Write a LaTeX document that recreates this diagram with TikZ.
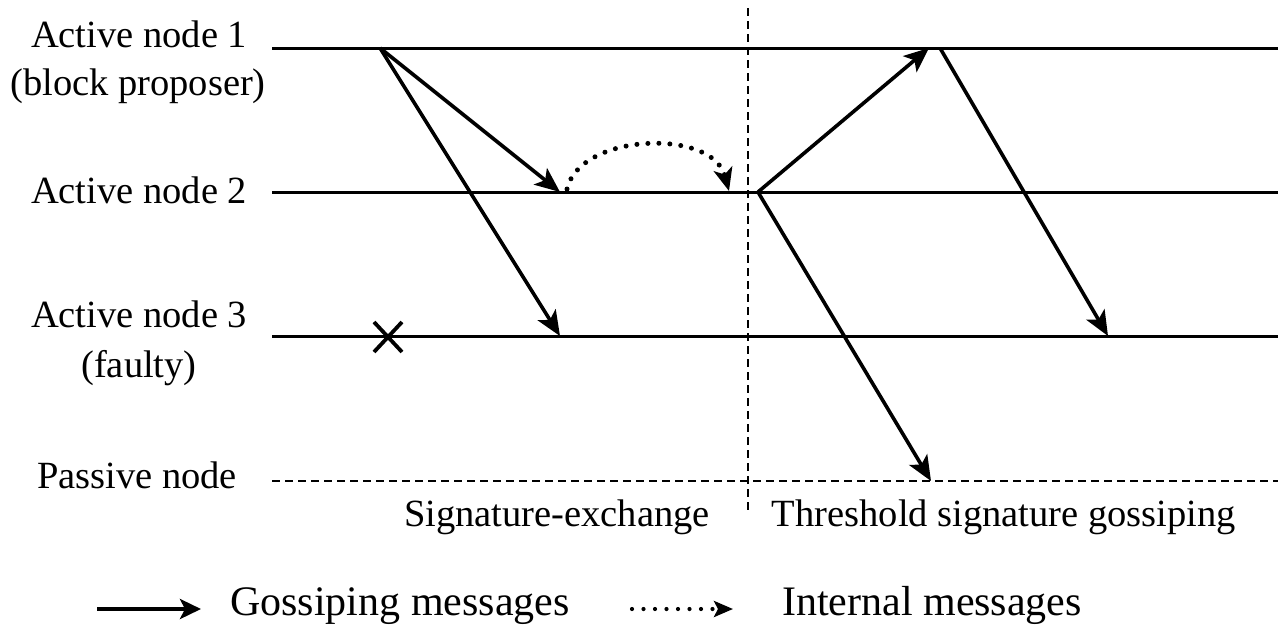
\documentclass[tikz,border=0pt]{standalone}
\usepackage{fontspec}
\setmainfont{Liberation Serif}
\usetikzlibrary{arrows.meta}
\begin{document}
\begin{tikzpicture}[x=1pt,y=-1pt,
  lbl/.style={anchor=base,inner sep=0pt,font=\fontsize{38.5}{46}\selectfont},
  legendtext/.style={anchor=base west,inner sep=0pt,font=\fontsize{42}{50}\selectfont},
  timeline/.style={line width=3pt},
  passive/.style={line width=2.4pt,dash pattern=on 8pt off 5pt},
  phase/.style={line width=2pt,dash pattern=on 8pt off 5pt},
  gossip/.style={line width=3.6pt,-{Stealth[length=25pt,width=21pt,inset=6pt]}},
  internal/.style={line width=5pt,line cap=round,dash pattern=on 0pt off 11pt,-{Stealth[length=23pt,width=19pt,inset=6pt]}},
  gossipkey/.style={line width=4pt,-{Stealth[length=21pt,width=20pt,inset=5pt]}},
  internalkey/.style={line width=4.2pt,line cap=round,dash pattern=on 0pt off 11.5pt,-{Stealth[length=19pt,width=16pt,inset=4pt]}},
  fault/.style={line width=3.8pt}
]
\useasboundingbox (0,0) rectangle (1283,630);

% node labels
\node[lbl] (n1)  at (139,47)  {Active node 1};
\node[lbl] (n1b) at (138,95)  {(block proposer)};
\node[lbl] (n2)  at (139,203) {Active node 2};
\node[lbl] (n3)  at (139,327) {Active node 3};
\node[lbl] (n3b) at (139,377) {(faulty)};
\node[lbl] (np)  at (137,488) {Passive node};

% time lines
\coordinate (l1a) at (272,48);  \coordinate (l1b) at (1278,48);
\coordinate (l2a) at (272,192); \coordinate (l2b) at (1278,192);
\coordinate (l3a) at (272,336); \coordinate (l3b) at (1278,336);
\coordinate (lpa) at (272,481); \coordinate (lpb) at (1278,481);
\draw[timeline] (l1a) -- (l1b);
\draw[timeline] (l2a) -- (l2b);
\draw[timeline] (l3a) -- (l3b);
\draw[passive]  (lpa) -- (lpb);

% phase separator
\coordinate (ph0) at (748,8);
\coordinate (ph1) at (748,512);
\draw[phase] (ph0) -- (ph1);

% phase labels
\node[lbl] (sx) at (557,526)  {Signature-exchange};
\node[lbl] (tg) at (1004,526) {Threshold signature gossiping};

% message events
\coordinate (p1)  at (380,48);
\coordinate (r2)  at (560,192);
\coordinate (r3)  at (560,336);
\coordinate (s2)  at (567,189);
\coordinate (i2)  at (729,191);
\coordinate (t2)  at (758,192);
\coordinate (r1)  at (929,48);
\coordinate (t1)  at (940,48);
\coordinate (r3b) at (1108,336);
\coordinate (rp)  at (931,481);

% gossiping messages
\draw[gossip] (p1) -- (r2);
\draw[gossip] (p1) -- (r3);
\draw[gossip] (t2) -- (r1);
\draw[gossip] (t1) -- (r3b);
\draw[gossip] (t2) -- (rp);

% internal message
\draw[internal] (s2) .. controls (580,133) and (712,128) .. (i2);

% crash of node 3
\coordinate (xa) at (374,322); \coordinate (xb) at (402,352);
\coordinate (xc) at (374,352); \coordinate (xd) at (402,322);
\draw[fault] (xa) -- (xb);
\draw[fault] (xc) -- (xd);

% legend
\coordinate (g0) at (97,609);  \coordinate (g1) at (201,609);
\coordinate (d0) at (632,609); \coordinate (d1) at (733,609);
\draw[gossipkey] (g0) -- (g1);
\node[legendtext] (lg) at (230,615) {Gossiping messages};
\draw[internalkey] (d0) -- (d1);
\node[legendtext] (li) at (782,615) {Internal messages};
\end{tikzpicture}
\end{document}
